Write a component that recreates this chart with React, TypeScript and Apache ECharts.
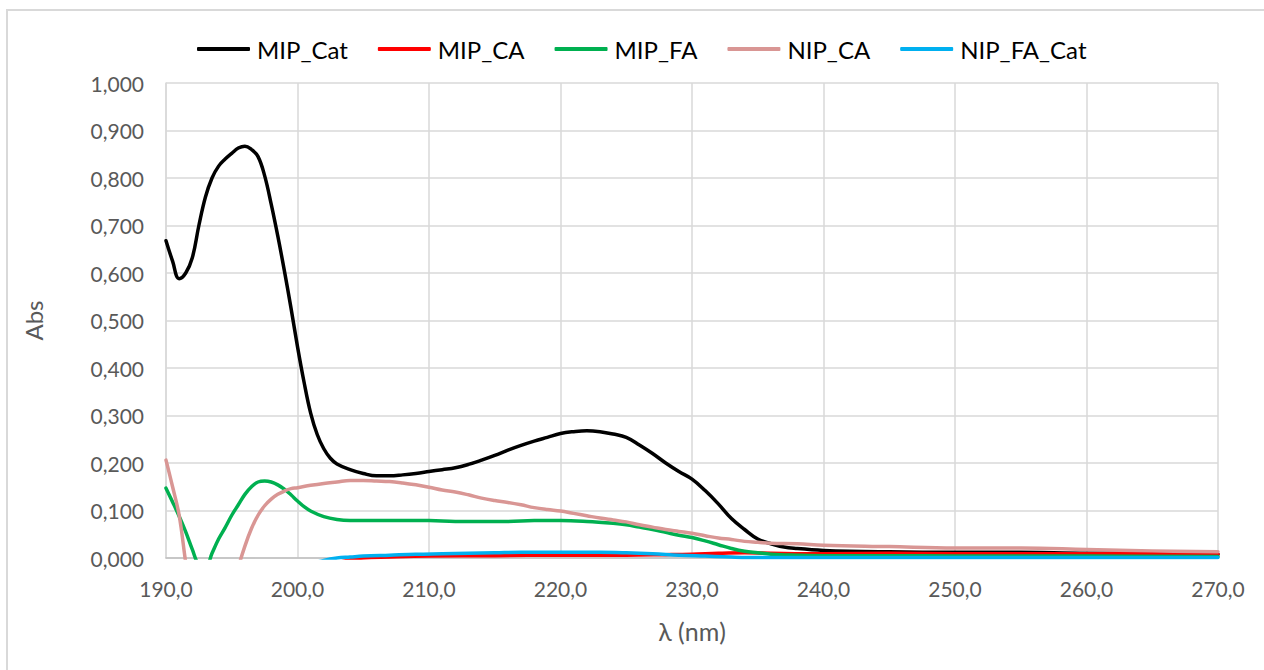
import React, { useEffect, useRef } from "react";
import * as echarts from "echarts";

const seriesNames = ["MIP_Cat", "MIP_CA", "MIP_FA", "NIP_CA", "NIP_FA_Cat"];
const seriesColors = ["#000000", "#FF0000", "#00B050", "#D99694", "#00B0F0"];

const mipCatX = [190, 190.5, 191, 191.5, 192, 192.5, 193, 193.5, 194, 194.5, 195, 195.5, 196, 196.5, 197, 197.5, 198, 198.5, 199, 199.5, 200, 200.5, 201, 201.5, 202, 202.5, 203, 204, 205, 206, 207, 208, 209, 210, 211, 212, 213, 214, 215, 216, 217, 218, 219, 220, 221, 222, 223, 224, 225, 226, 227, 228, 229, 230, 231, 232, 233, 234, 235, 236, 237, 238, 240, 242, 245, 250, 255, 260, 265, 270];
const mipCatY = [0.668, 0.625, 0.588, 0.600, 0.632, 0.700, 0.760, 0.800, 0.825, 0.840, 0.852, 0.863, 0.867, 0.860, 0.845, 0.805, 0.745, 0.678, 0.605, 0.527, 0.445, 0.370, 0.305, 0.260, 0.230, 0.210, 0.198, 0.186, 0.178, 0.173, 0.173, 0.175, 0.178, 0.182, 0.186, 0.190, 0.197, 0.206, 0.216, 0.227, 0.237, 0.246, 0.254, 0.262, 0.266, 0.268, 0.266, 0.261, 0.254, 0.238, 0.220, 0.200, 0.182, 0.166, 0.142, 0.114, 0.083, 0.060, 0.040, 0.030, 0.023, 0.020, 0.016, 0.014, 0.013, 0.012, 0.012, 0.010, 0.010, 0.008];

const mipCaX = [200, 203, 205, 207, 210, 215, 220, 225, 228, 230, 232, 234, 236, 240, 245, 250, 255, 260, 265, 270];
const mipCaY = [-0.03, -0.01, 0.000, 0.002, 0.004, 0.005, 0.006, 0.006, 0.007, 0.008, 0.010, 0.011, 0.010, 0.009, 0.010, 0.009, 0.009, 0.009, 0.009, 0.008];

const mipFaX = [190, 190.5, 191, 191.5, 192, 192.5, 193, 193.5, 194, 194.5, 195, 195.5, 196, 196.5, 197, 197.5, 198, 198.5, 199, 199.5, 200, 200.5, 201, 202, 203, 204, 206, 208, 210, 212, 214, 216, 218, 220, 222, 224, 225, 226, 227, 228, 229, 230, 231, 232, 233, 234, 235, 236, 238, 240, 245, 250, 260, 270];
const mipFaY = [0.147, 0.118, 0.088, 0.055, 0.018, -0.015, -0.020, 0.010, 0.040, 0.064, 0.090, 0.112, 0.134, 0.150, 0.160, 0.162, 0.160, 0.154, 0.145, 0.133, 0.120, 0.108, 0.099, 0.087, 0.081, 0.079, 0.079, 0.079, 0.079, 0.077, 0.077, 0.077, 0.079, 0.079, 0.077, 0.073, 0.070, 0.065, 0.060, 0.054, 0.048, 0.043, 0.036, 0.028, 0.020, 0.014, 0.011, 0.008, 0.006, 0.005, 0.005, 0.004, 0.004, 0.003];

const nipCaX = [190, 190.5, 191, 191.5, 192, 193, 194, 195, 195.5, 196, 196.5, 197, 197.5, 198, 198.5, 199, 199.5, 200, 201, 202, 203, 204, 205, 206, 207, 208, 209, 210, 211, 212, 213, 214, 215, 216, 217, 218, 219, 220, 221, 222, 223, 224, 225, 226, 227, 228, 229, 230, 231, 232, 233, 234, 235, 236, 238, 240, 245, 250, 255, 260, 265, 270];
const nipCaY = [0.206, 0.150, 0.090, -0.010, -0.100, -0.200, -0.180, -0.080, -0.020, 0.025, 0.062, 0.090, 0.110, 0.124, 0.134, 0.141, 0.146, 0.148, 0.153, 0.157, 0.160, 0.163, 0.163, 0.162, 0.161, 0.158, 0.154, 0.149, 0.143, 0.139, 0.133, 0.126, 0.121, 0.117, 0.112, 0.106, 0.102, 0.099, 0.094, 0.089, 0.084, 0.080, 0.076, 0.070, 0.065, 0.060, 0.056, 0.052, 0.047, 0.042, 0.039, 0.035, 0.033, 0.031, 0.030, 0.027, 0.024, 0.021, 0.021, 0.018, 0.015, 0.013];

const nipFaCatX = [200, 202, 203, 204, 205, 207, 209, 211, 213, 215, 217, 220, 223, 225, 227, 229, 231, 233, 235, 240, 250, 260, 270];
const nipFaCatY = [-0.020, -0.005, 0.000, 0.002, 0.004, 0.006, 0.008, 0.009, 0.010, 0.011, 0.012, 0.012, 0.012, 0.011, 0.009, 0.006, 0.004, 0.002, 0.001, 0.001, 0.001, 0.001, 0.001];

const xTicks = { min: 190, max: 270, interval: 10 };
const yTicks = { min: 0, max: 1, interval: 0.1 };

const allX = [mipCatX, mipCaX, mipFaX, nipCaX, nipFaCatX];
const allY = [mipCatY, mipCaY, mipFaY, nipCaY, nipFaCatY];

const FONT = "Lato, 'Noto Sans', sans-serif";

export default function App() {
  const ref = useRef<HTMLDivElement>(null);
  useEffect(() => {
    if (!ref.current) return;
    const chart = echarts.init(ref.current, null, { renderer: "svg" });
    chart.setOption({
      animation: false,
      backgroundColor: "#ffffff",
      textStyle: { fontFamily: FONT },
      graphic: [
        {
          type: "rect",
          shape: { x: 7, y: 10, width: 1300, height: 700 },
          style: { fill: "none", stroke: "#d9d9d9", lineWidth: 2 },
          silent: true,
        },
      ],
      legend: {
        left: 192,
        top: 32,
        icon: "roundRect",
        itemWidth: 53,
        itemHeight: 4,
        itemGap: 30,
        textStyle: { fontSize: 24, color: "#000000", fontFamily: FONT, padding: [0, 0, 0, 2] },
        data: seriesNames,
      },
      grid: { left: 166, right: 46, top: 83, bottom: 112, containLabel: false },
      xAxis: {
        type: "value",
        min: xTicks.min,
        max: xTicks.max,
        interval: xTicks.interval,
        name: "λ (nm)",
        nameLocation: "middle",
        nameGap: 60,
        nameTextStyle: { fontSize: 25, color: "#595959", fontFamily: FONT },
        axisLine: { show: true, lineStyle: { color: "#bfbfbf", width: 1.5 } },
        axisTick: { show: false },
        splitLine: { show: true, lineStyle: { color: "#d9d9d9", width: 1.5 } },
        axisLabel: {
          fontSize: 21,
          color: "#595959",
          margin: 20,
          fontFamily: FONT,
          formatter: (v: number) => v.toFixed(1).replace(".", ","),
        },
      },
      yAxis: {
        type: "value",
        min: yTicks.min,
        max: yTicks.max,
        interval: yTicks.interval,
        name: "Abs",
        nameLocation: "middle",
        nameGap: 121,
        nameRotate: 90,
        nameTextStyle: { fontSize: 24, color: "#595959", fontFamily: FONT },
        axisLine: { show: true, lineStyle: { color: "#d9d9d9", width: 1.5 } },
        axisTick: { show: false },
        splitLine: { show: true, lineStyle: { color: "#d9d9d9", width: 1.5 } },
        axisLabel: {
          fontSize: 21,
          color: "#595959",
          margin: 22,
          fontFamily: FONT,
          formatter: (v: number) => v.toFixed(3).replace(".", ","),
        },
      },
      series: seriesNames.map((name, i) => ({
        name,
        type: "line",
        data: allX[i].map((x, j) => [x, allY[i][j]]),
        smooth: 0.4,
        symbol: "none",
        showSymbol: false,
        clip: true,
        color: seriesColors[i],
        itemStyle: { color: seriesColors[i] },
        lineStyle: { color: seriesColors[i], width: 3.5, cap: "round", join: "round" },
      })),
    });
    return () => chart.dispose();
  }, []);
  return (
    <div
      ref={ref}
      style={{ position: "fixed", left: 0, top: 0, width: 1264, height: 670 }}
    />
  );
}
